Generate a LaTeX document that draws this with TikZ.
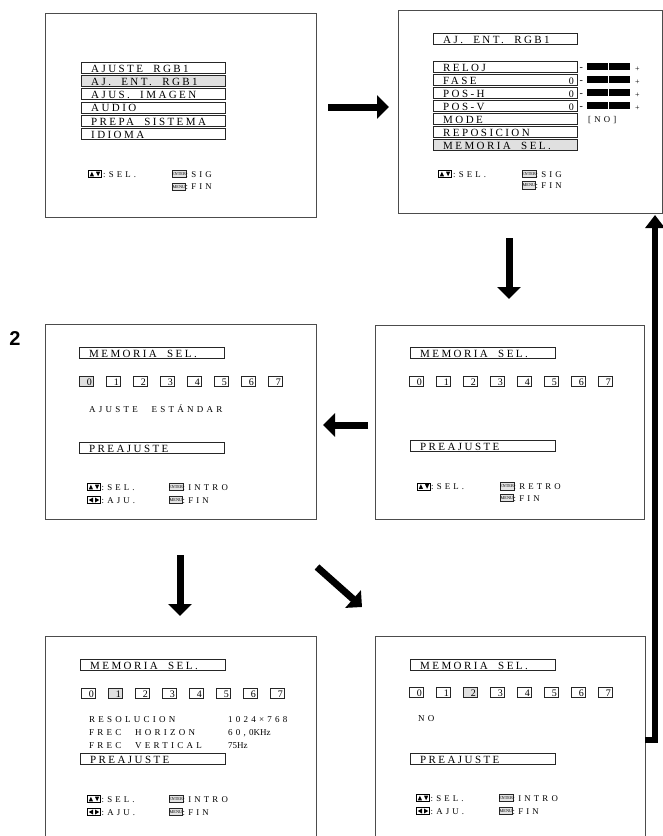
\documentclass[tikz,border=0pt]{standalone}
\usepackage{fontspec}
\setmainfont{Liberation Serif}
\newfontfamily\menufont[LetterSpace=22,WordSpace=2]{Liberation Serif}
\newfontfamily\footfont[LetterSpace=36,WordSpace=2.5]{Liberation Serif}
\newfontfamily\plainfont{Liberation Serif}
\newfontfamily\bigsans{Liberation Sans}
\usetikzlibrary{arrows.meta}
\newcounter{autonode}
\tikzset{
  every node/.append code={\stepcounter{autonode}\pgfkeysalso{/tikz/name=an\arabic{autonode}}},
  screen/.style={draw=black!70, line width=0.8pt, inner sep=0pt, outer sep=0pt},
  mrect/.style={draw=black!85, line width=0.7pt},
  sel/.style={fill=black!12},
  mtext/.style={anchor=base west, inner sep=0pt, font=\menufont\fontsize{11}{12}\selectfont},
  ftext/.style={anchor=base west, inner sep=0pt, font=\footfont\fontsize{8.8}{10}\selectfont},
  vtext/.style={anchor=base west, inner sep=0pt, font=\footfont\fontsize{9}{10}\selectfont},
  dig/.style={anchor=base east, inner sep=0pt, font=\plainfont\fontsize{10}{11}\selectfont},
  keybox/.style={draw=black!85, line width=0.6pt, fill=black!10, inner sep=0pt,
     minimum width=13pt, minimum height=7.5pt, font=\plainfont\fontsize{4.3}{4.5}\selectfont},
  bigarrow/.style={line width=7pt, -{Triangle[width=23pt,length=12pt]}},
}
\newcommand{\MRow}[5]{%
  \draw[mrect,#5] (#1,#3) rectangle (#2,#3+11);
  \node[mtext] at (#1+10,#3+10) {#4};}
\newcommand{\NumRow}[3]{%
  \foreach \k in {0,...,7}{%
    \ifnum\k=#3\relax\def\ff{sel}\else\def\ff{}\fi
    \draw[mrect,\ff] (#1+27*\k,#2) rectangle (#1+27*\k+14,#2+10);
    \node[dig] at (#1+27*\k+13,#2+9.5) {\k};}}
\newcommand{\UDicon}[2]{%
  \begin{scope}[shift={(#1,#2)}]
    \draw[line width=0.9pt] (-6.5,-3.5) rectangle (6.5,3.5);
    \fill (-5.2,2.3) -- (-1.0,2.3) -- (-3.1,-2.3) -- cycle;
    \fill (1.0,-2.3) -- (5.2,-2.3) -- (3.1,2.3) -- cycle;
  \end{scope}}
\newcommand{\LRicon}[2]{%
  \begin{scope}[shift={(#1,#2)}]
    \draw[line width=0.9pt] (-6.5,-3.5) rectangle (6.5,3.5);
    \fill (-1.0,-2.5) -- (-1.0,2.5) -- (-5.2,0) -- cycle;
    \fill (1.0,-2.5) -- (1.0,2.5) -- (5.2,0) -- cycle;
  \end{scope}}
\newcommand{\Bar}[1]{%
  \node[anchor=base west, inner sep=0pt, font=\plainfont\fontsize{10}{11}\selectfont] at (579.5,#1+9.5) {-};
  \fill (587,#1+2) rectangle (630,#1+9);
  \draw[white, line width=0.4pt] (608,#1+2) -- (608,#1+9);
  \node[anchor=base west, inner sep=0pt, font=\plainfont\fontsize{8}{9}\selectfont] at (635,#1+10) {+};}
\begin{document}
\begin{tikzpicture}[x=1pt,y=-1pt]
\useasboundingbox (0,0) rectangle (663,836);

% ---------- screens
\node[screen, minimum width=271pt, minimum height=204pt] (s1) at (180.5,115) {};
\node[screen, minimum width=264.5pt, minimum height=203pt] (s2) at (530.25,111.5) {};
\node[screen, minimum width=269pt, minimum height=194pt] (s3) at (509.5,422) {};
\node[screen, minimum width=271pt, minimum height=195pt] (s4) at (180.5,421.5) {};
\node[screen, minimum width=271pt, minimum height=204pt] (s5) at (180.5,738) {};
\node[screen, minimum width=270pt, minimum height=204pt] (s6) at (510,738) {};

% ---------- screen 1
\foreach \t [count=\i from 0] in {AJUSTE RGB1, AJ. ENT. RGB1, AJUS. IMAGEN, AUDIO, PREPA SISTEMA, IDIOMA}{%
  \ifnum\i=1\relax\def\ss{sel}\else\def\ss{}\fi
  \MRow{81}{225}{62+13.3*\i}{\t}{\ss}}
\UDicon{95}{174}
\node[ftext] at (103,177) {:SEL.};
\node[keybox] at (179,174) {ENTER};
\node[ftext] at (185.5,177) {:SIG};
\node[keybox] at (179,186.7) {MENU};
\node[ftext] at (185.5,189.7) {:FIN};

% ---------- screen 2
\MRow{433}{577}{33}{AJ. ENT. RGB1}{}
\MRow{433}{577}{61}{RELOJ}{}
\MRow{433}{577}{74}{FASE}{}
\MRow{433}{577}{87}{POS-H}{}
\MRow{433}{577}{100}{POS-V}{}
\MRow{433}{577}{113}{MODE}{}
\MRow{433}{577}{126.5}{REPOSICION}{}
\MRow{433}{577}{139.5}{MEMORIA SEL.}{sel}
\node[dig] at (574,84) {0};
\node[dig] at (574,97) {0};
\node[dig] at (574,110) {0};
\Bar{61}
\Bar{74}
\Bar{87}
\Bar{100}
\node[ftext] at (588,122) {[NO]};
\UDicon{445}{174}
\node[ftext] at (453,177) {:SEL.};
\node[keybox] at (529,174) {ENTER};
\node[ftext] at (535.5,177) {:SIG};
\node[keybox] at (529,185.5) {MENU};
\node[ftext] at (535.5,188.5) {:FIN};

% ---------- screen 3 (middle right)
\MRow{410}{555}{347}{MEMORIA SEL.}{}
\NumRow{409}{376}{-1}
\MRow{410}{555}{440}{PREAJUSTE}{}
\UDicon{424}{486.5}
\node[ftext] at (431,489.5) {:SEL.};
\node[keybox] at (507,486.5) {ENTER};
\node[ftext] at (513.5,489.5) {:RETRO};
\node[keybox] at (507,498) {MENU};
\node[ftext] at (513.5,501) {:FIN};

% ---------- screen 4 (middle left)
\MRow{79}{224}{347}{MEMORIA SEL.}{}
\NumRow{79}{376}{0}
\node[vtext] at (89,412) {AJUSTE ESTÁNDAR};
\MRow{79}{224}{442}{PREAJUSTE}{}
\UDicon{94}{487}
\node[ftext] at (101.5,490) {:SEL.};
\LRicon{94}{500}
\node[ftext] at (101.5,503) {:AJU.};
\node[keybox] at (176,487) {ENTER};
\node[ftext] at (182.5,490) {:INTRO};
\node[keybox] at (176,500) {MENU};
\node[ftext] at (182.5,503) {:FIN};

% ---------- screen 5 (bottom left)
\MRow{80}{225}{659}{MEMORIA SEL.}{}
\NumRow{81}{688}{1}
\node[vtext] at (89,722) {RESOLUCION};
\node[vtext] at (89,735.5) {FREC HORIZON};
\node[vtext] at (89,748.5) {FREC VERTICAL};
\node[vtext] at (228,722) {1024×768};
\node[vtext] at (228,735.5) {60,0{\plainfont KHz}};
\node[vtext] at (228,748.5) {7{\plainfont 5Hz}};
\MRow{80}{225}{753}{PREAJUSTE}{}
\UDicon{94}{799}
\node[ftext] at (101.5,802) {:SEL.};
\LRicon{94}{812}
\node[ftext] at (101.5,815) {:AJU.};
\node[keybox] at (176,799) {ENTER};
\node[ftext] at (182.5,802) {:INTRO};
\node[keybox] at (176,812) {MENU};
\node[ftext] at (182.5,815) {:FIN};

% ---------- screen 6 (bottom right)
\MRow{410}{555}{659}{MEMORIA SEL.}{}
\NumRow{409}{687}{2}
\node[vtext] at (418,721) {NO};
\MRow{410}{555}{753}{PREAJUSTE}{}
\UDicon{423}{798}
\node[ftext] at (430.5,801) {:SEL.};
\LRicon{423}{811}
\node[ftext] at (430.5,814) {:AJU.};
\node[keybox] at (506,798) {ENTER};
\node[ftext] at (512.5,801) {:INTRO};
\node[keybox] at (506,811) {MENU};
\node[ftext] at (512.5,814) {:FIN};

% ---------- label
\node[inner sep=0pt, font=\bigsans\bfseries\fontsize{20}{20}\selectfont] (lab2) at (15,339) {2};

% ---------- arrows
\coordinate (a1s) at (328,107);  \coordinate (a1e) at (389,107);
\coordinate (a2s) at (509,238);  \coordinate (a2e) at (509,299);
\coordinate (a3s) at (368,425);  \coordinate (a3e) at (323,425);
\coordinate (a4s) at (180,555);  \coordinate (a4e) at (180,616);
\coordinate (a5s) at (317,567);  \coordinate (a5e) at (362,607);
\coordinate (r1) at (645,740);   \coordinate (r2) at (655,740);  \coordinate (r3) at (655,215);
\draw[bigarrow] (a1s) -- (a1e);
\draw[bigarrow] (a2s) -- (a2e);
\draw[bigarrow] (a3s) -- (a3e);
\draw[bigarrow] (a4s) -- (a4e);
\draw[bigarrow] (a5s) -- (a5e);
\draw[line width=6pt, line join=miter, -{Triangle[width=19pt,length=13pt]}] (r1) -- (r2) -- (r3);
\end{tikzpicture}
\end{document}
